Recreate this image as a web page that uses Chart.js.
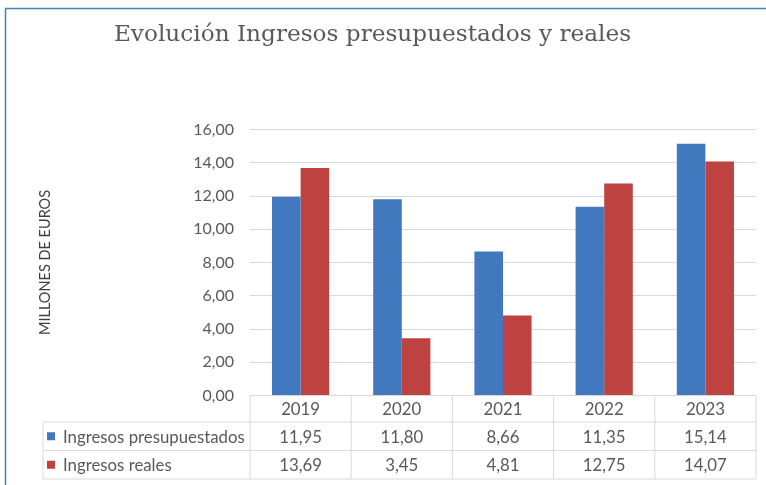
<!DOCTYPE html>
<html>
<head>
<meta charset="utf-8">
<title>Evolución Ingresos presupuestados y reales</title>
<script src="https://cdn.jsdelivr.net/npm/chart.js@4/dist/chart.umd.min.js"></script>
<style>
  html, body { margin: 0; padding: 0; background: #fff; }
  #wrap { width: 766px; height: 485px; position: relative; }
</style>
</head>
<body>
<div id="wrap"><canvas id="myChart"></canvas></div>
<script>
const titulo = 'Evolución Ingresos presupuestados y reales';
const ejeY = 'MILLONES DE EUROS';
const anios = ['2019', '2020', '2021', '2022', '2023'];
const nombreSeries = ['Ingresos presupuestados', 'Ingresos reales'];
const presupuestados = [11.95, 11.80, 8.66, 11.35, 15.14];
const reales = [13.69, 3.45, 4.81, 12.75, 14.07];
const colores = ['#4178BE', '#BE4340'];

const gris = '#595959';
const linea = '#D9D9D9';
const fuente = 'Lato, "Noto Sans", sans-serif';

function coma(v){
    return v.toFixed(2).replace('.', ',');
}

// titulo, marco y tabla de datos debajo del grafico
const tablaPlugin = {
    id: 'tablaDatos',
    afterDraw(chart) {
        const ctx = chart.ctx;
        const area = chart.chartArea;
        const x = chart.scales.x;
        const ancho = (area.right - area.left) / anios.length;
        const izq = 43;
        const y0 = area.bottom;
        const y1 = y0 + 26.5;
        const y2 = y1 + 28.5;
        const y3 = y2 + 28.5;

        ctx.save();

        // marco azul
        ctx.strokeStyle = '#4A7EBB';
        ctx.lineWidth = 1.5;
        ctx.strokeRect(5.5, 8.5, 900, 700);

        // titulo
        ctx.fillStyle = gris;
        ctx.font = '23.2px "DejaVu Serif"';
        ctx.textAlign = 'center';
        ctx.textBaseline = 'alphabetic';
        ctx.fillText(titulo, 372.5, 41);

        // lineas
        ctx.strokeStyle = linea;
        ctx.lineWidth = 1;
        ctx.beginPath();
        ctx.moveTo(area.left, y0); ctx.lineTo(area.right, y0);
        for (let yy of [y1, y2, y3]) {
            ctx.moveTo(izq, yy); ctx.lineTo(area.right, yy);
        }
        ctx.moveTo(izq, y1); ctx.lineTo(izq, y3);
        for (let i = 0; i <= anios.length; i++) {
            let xx = area.left + i * ancho;
            ctx.moveTo(xx, y0); ctx.lineTo(xx, y3);
        }
        ctx.stroke();

        // textos
        ctx.font = '16.8px ' + fuente;
        ctx.textBaseline = 'middle';
        ctx.fillStyle = gris;
        ctx.textAlign = 'center';
        for (let i = 0; i < anios.length; i++) {
            let cx = x.getPixelForValue(i);
            ctx.fillText(anios[i], cx, (y0 + y1) / 2 + 1);
            ctx.fillText(coma(presupuestados[i]), cx, (y1 + y2) / 2 + 1);
            ctx.fillText(coma(reales[i]), cx, (y2 + y3) / 2 + 1);
        }

        ctx.textAlign = 'left';
        for (let s = 0; s < nombreSeries.length; s++) {
            let cy = s == 0 ? (y1 + y2) / 2 : (y2 + y3) / 2;
            ctx.fillStyle = colores[s];
            ctx.fillRect(47, cy - 4, 8, 8);
            ctx.fillStyle = gris;
            ctx.fillText(nombreSeries[s], 63, cy + 1);
        }

        ctx.restore();
    }
};

const ctx = document.getElementById('myChart').getContext('2d');
const myChart = new Chart(ctx, {
    type: 'bar',
    data: {
        labels: anios,
        datasets: [{
            label: nombreSeries[0],
            data: presupuestados,
            backgroundColor: colores[0]
        }, {
            label: nombreSeries[1],
            data: reales,
            backgroundColor: colores[1]
        }]
    },
    options: {
        responsive: true,
        maintainAspectRatio: false,
        animation: false,
        layout: {
            padding: { top: 129.5, right: 10, bottom: 89.5, left: 0 }
        },
        datasets: {
            bar: { barPercentage: 1, categoryPercentage: 0.565 }
        },
        plugins: {
            legend: { display: false },
            title: { display: false },
            tooltip: { enabled: false }
        },
        scales: {
            x: {
                display: false
            },
            y: {
                min: 0,
                max: 16,
                afterFit: function(scale) { scale.width = 250; },
                border: { display: false },
                grid: { color: linea, lineWidth: 1, drawTicks: false },
                ticks: {
                    stepSize: 2,
                    padding: 16,
                    color: gris,
                    font: { family: fuente, size: 16 },
                    callback: function(v) { return coma(v); }
                },
                title: {
                    display: true,
                    text: ejeY,
                    color: '#404040',
                    font: { family: fuente, size: 14.5 },
                    padding: { top: 37, bottom: 0 }
                }
            }
        }
    },
    plugins: [tablaPlugin]
});
</script>
</body>
</html>
